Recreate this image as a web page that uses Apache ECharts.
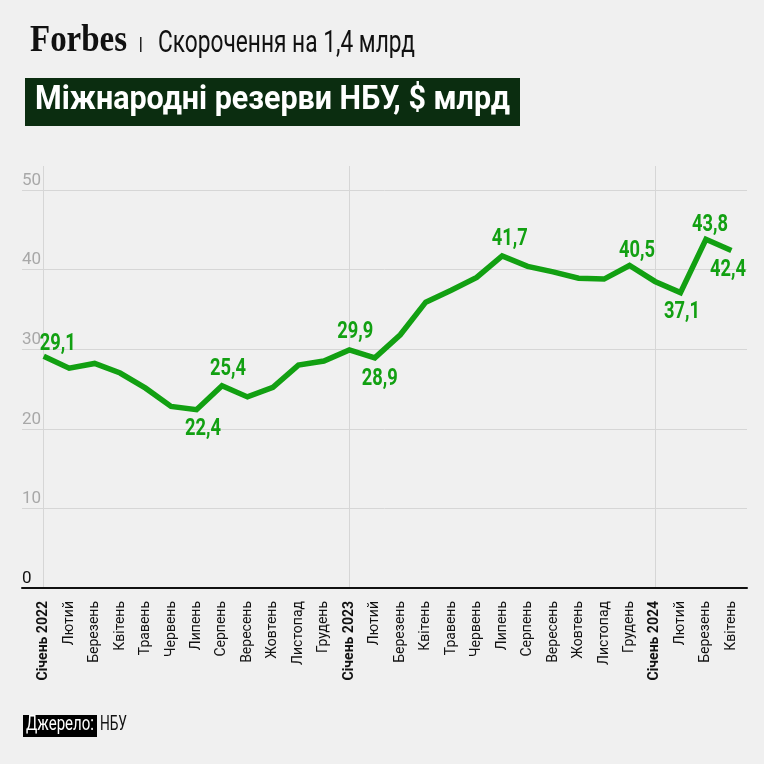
<!DOCTYPE html>
<html>
<head>
<meta charset="utf-8">
<script src="https://cdn.jsdelivr.net/npm/echarts@6/dist/echarts.min.js"></script>
<style>
html,body{margin:0;padding:0;background:#f0f0f0;}
#chart{width:764px;height:764px;}
</style>
</head>
<body>
<div id="chart"></div>
<script>
var months = ['Січень 2022','Лютий','Березень','Квітень','Травень','Червень','Липень','Серпень','Вересень','Жовтень','Листопад','Грудень',
	'Січень 2023','Лютий','Березень','Квітень','Травень','Червень','Липень','Серпень','Вересень','Жовтень','Листопад','Грудень',
	'Січень 2024','Лютий','Березень','Квітень'];
var reserves = [29.1, 27.6, 28.2, 27.0, 25.1, 22.8, 22.4, 25.4, 24.0, 25.2, 28.0, 28.5,
	29.9, 28.9, 31.8, 35.9, 37.4, 39.0, 41.7, 40.4, 39.7, 38.9, 38.8, 40.5,
	38.5, 37.1, 43.8, 42.4];
var yTicks = [0, 10, 20, 30, 40, 50];
var labeled = [0, 6, 7, 12, 13, 18, 23, 25, 26, 27];

var GREEN = '#12a012';
var LABEL_FONT = 'bold 24px Roboto';

// label centre relative to its point, px
var labelShift = {
	0: [14, -12], 6: [6.5, 19], 7: [6, -17], 12: [6, -18], 13: [5, 21],
	18: [7.5, -17], 23: [7.5, -15], 25: [1.5, 19], 26: [4, -14], 27: [-3.5, 20]
};

var measureCtx = document.createElement('canvas').getContext('2d');
function squeeze(text, font, width){
	measureCtx.font = font;
	return width / measureCtx.measureText(text).width;
}
function fmt(v){ return v.toFixed(1).replace('.', ','); }

var labelScale = squeeze('41,7', LABEL_FONT, 36);

// y is the middle of the capitals
function headText(x, y, text, font, width, color){
	return {
		type: 'text', x: x, y: y, scaleX: squeeze(text, font, width),
		style: {text: text, font: font, fill: color, verticalAlign: 'middle', align: 'left'}
	};
}

var chart = echarts.init(document.getElementById('chart'));
var option = {
	backgroundColor: '#f0f0f0',
	animation: false,
	grid: [
		{left: 22, right: 17, top: 190, bottom: 176},
		{left: 43.7, right: 32.6, top: 166, bottom: 176}
	],
	xAxis: [
		{
			gridIndex: 0, type: 'value', min: 0, max: 1,
			axisLine: {show: true, lineStyle: {color: '#111', width: 2}},
			axisTick: {show: false}, axisLabel: {show: false}, splitLine: {show: false}
		},
		{
			gridIndex: 1, type: 'category', boundaryGap: false, data: months,
			axisLine: {show: false}, axisTick: {show: false},
			axisLabel: {
				interval: 0, rotate: 90, margin: 13,
				fontFamily: 'Roboto', fontSize: 14, color: '#111',
				formatter: function(v, i){
					return i % 12 === 0 ? '{b|' + v + '}' : v;
				},
				rich: {b: {fontFamily: 'Roboto', fontSize: 14, fontWeight: 'bold', color: '#111'}}
			},
			splitLine: {
				show: true,
				interval: function(i){ return i % 12 === 0; },
				lineStyle: {color: '#d6d6d6', width: 1}
			}
		}
	],
	yAxis: [
		{
			gridIndex: 0, type: 'value', min: yTicks[0], max: yTicks[yTicks.length - 1], interval: 10,
			axisLine: {show: false}, axisTick: {show: false},
			axisLabel: {
				inside: true, margin: 0, align: 'left', verticalAlign: 'bottom',
				padding: [0, 0, 1, 0],
				fontFamily: 'Roboto', fontSize: 17, color: '#a8a8a8',
				formatter: function(v){ return v === 0 ? '{z|0}' : String(v); },
				rich: {z: {fontFamily: 'Roboto', fontSize: 17, color: '#111'}}
			},
			splitLine: {lineStyle: {color: '#d6d6d6', width: 1}}
		},
		{
			gridIndex: 1, type: 'value', min: 0, max: 53, show: false,
			splitLine: {show: false}
		}
	],
	series: [
		{
			type: 'line',
			xAxisIndex: 1, yAxisIndex: 1,
			data: reserves,
			symbol: 'none',
			lineStyle: {color: GREEN, width: 5.5, join: 'miter'}
		},
		{
			type: 'custom',
			xAxisIndex: 1, yAxisIndex: 1,
			data: labeled.map(function(i){ return [i, reserves[i]]; }),
			renderItem: function(params, api){
				var i = api.value(0);
				var pt = api.coord([i, api.value(1)]);
				var s = labelShift[i];
				return {
					type: 'text', x: pt[0] + s[0], y: pt[1] + s[1], scaleX: labelScale,
					style: {text: fmt(api.value(1)), font: LABEL_FONT, fill: GREEN,
						align: 'center', verticalAlign: 'middle'}
				};
			}
		}
	],
	graphic: [
		headText(30, 41, 'Forbes', "bold 37px 'Liberation Serif', serif", 97, '#111'),
		{type: 'rect', shape: {x: 140, y: 37, width: 1.5, height: 15}, style: {fill: '#222'}},
		headText(158, 44, 'Скорочення на 1,4 млрд', '31px Roboto', 257, '#111'),
		{type: 'rect', shape: {x: 25, y: 78, width: 495, height: 48}, style: {fill: '#0b2d10'}},
		headText(35, 100, 'Міжнародні резерви НБУ, $ млрд', 'bold 34px Roboto', 475, '#fff'),
		{type: 'rect', shape: {x: 23, y: 715, width: 74, height: 22}, style: {fill: '#000'}},
		headText(26, 725, 'Джерело:', '20px Roboto', 68, '#fff'),
		headText(100, 725, 'НБУ', '20px Roboto', 27, '#111')
	]
};
chart.setOption(option);
</script>
</body>
</html>
